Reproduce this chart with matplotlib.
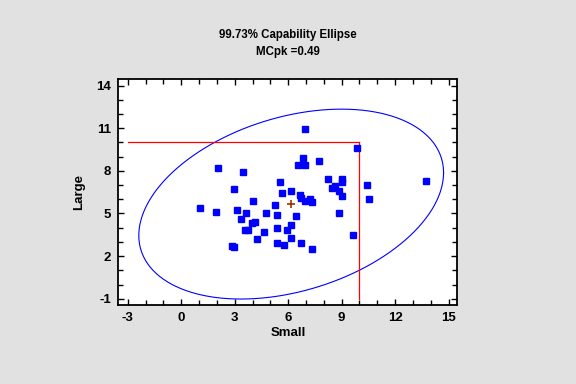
import numpy as np
import matplotlib
matplotlib.use("Agg")
import matplotlib.pyplot as plt

# Data
small = [1.03, 2.04, 3.45, 2.94, 4.01, 1.93, 3.11, 3.62, 3.34, 4.74, 5.25, 5.36,
         3.96, 4.12, 3.56, 3.73, 4.63, 4.24, 5.36, 5.36, 2.83, 2.94, 5.53, 5.64,
         6.94, 9.87, 6.83, 6.54, 6.94, 7.73, 8.23, 9.02, 9.02, 10.43, 13.75, 6.15,
         8.46, 8.63, 8.85, 9.02, 6.66, 6.72, 6.94, 7.22, 7.33, 10.54, 6.43, 8.85,
         6.15, 5.93, 6.15, 5.76, 6.72, 7.33, 9.64]
large = [5.38, 8.19, 7.91, 6.71, 5.87, 5.10, 5.24, 5.03, 4.61, 5.03, 5.59, 4.89,
         4.33, 4.40, 3.83, 3.83, 3.69, 3.20, 3.97, 2.92, 2.71, 2.64, 7.21, 6.43,
         10.93, 9.60, 8.89, 8.40, 8.40, 8.68, 7.42, 7.42, 7.21, 7.00, 7.28, 6.57,
         6.79, 6.93, 6.57, 6.22, 6.29, 6.08, 5.87, 6.01, 5.80, 6.01, 4.82, 5.03,
         4.18, 3.83, 3.27, 2.78, 2.92, 2.50, 3.48]

mean_point = (6.15, 5.66)
usl_small = 10
usl_large = 10
lsl_small_start = -3
lsl_large_start = -1

# Ellipse parameters
ell_center = (6.17, 5.66)
ell_half_x = 8.55
ell_half_y = 6.68
ell_rho = 0.33

title_lines = ["99.73% Capability Ellipse", "MCpk =0.49"]
xticks = [-3, 0, 3, 6, 9, 12, 15]
yticks = [-1, 2, 5, 8, 11, 14]

bg = "#e1e1e1"
plt.rcParams['font.family'] = ['Liberation Sans', 'DejaVu Sans']
plt.rcParams['axes.unicode_minus'] = False

fig = plt.figure(figsize=(5.76, 3.84), dpi=100, facecolor=bg)
ax = fig.add_axes([0.2054, 0.2057, 0.5888, 0.5878])
ax.set_facecolor("white")

# ellipse
t = np.linspace(0, 2 * np.pi, 400)
ex = ell_center[0] + ell_half_x * np.cos(t)
ey = ell_center[1] + ell_half_y * (ell_rho * np.cos(t) + np.sqrt(1 - ell_rho ** 2) * np.sin(t))
ax.plot(ex, ey, color="#0000ff", lw=0.8, zorder=2)

# spec lines
ax.plot([lsl_small_start, usl_small], [usl_large, usl_large], color="#ff0000", lw=0.9, zorder=2)
ax.plot([usl_small, usl_small], [lsl_large_start, usl_large], color="#ff0000", lw=0.9, zorder=2)

# points
ax.plot(small, large, linestyle="none", marker="s", markersize=4.2,
        markerfacecolor="#0000ff", markeredgecolor="#0000ff", zorder=3)
ax.plot([mean_point[0]], [mean_point[1]], linestyle="none", marker="+", markersize=6,
        markeredgewidth=1.2, color="#993300", zorder=4)

ax.set_xlim(-3.53, 15.5)
ax.set_ylim(-1.44, 14.44)
ax.set_xticks(xticks)
ax.set_yticks(yticks)
ax.set_xticks(np.arange(-3, 16, 1), minor=True)
ax.set_yticks(np.arange(-1, 15, 1), minor=True)
ax.tick_params(which="both", direction="in", top=True, right=True, length=4, width=1,
               labelsize=9.5, pad=5)
ax.tick_params(which="minor", length=3.5)
for lab in ax.get_xticklabels() + ax.get_yticklabels():
    lab.set_fontweight("bold")
for s in ax.spines.values():
    s.set_linewidth(1.3)

ax.set_xlabel("Small", fontsize=9.5, fontweight="bold", labelpad=2)
ax.set_ylabel("Large", fontsize=9.5, fontweight="bold", labelpad=8)

fig.text(0.5, 1 - 35 / 384, title_lines[0], ha="center", va="center", fontsize=8.3, fontweight="bold")
fig.text(0.5, 1 - 52 / 384, title_lines[1], ha="center", va="center", fontsize=8.3, fontweight="bold")

fig.savefig("out.png", dpi=100, facecolor=bg)
